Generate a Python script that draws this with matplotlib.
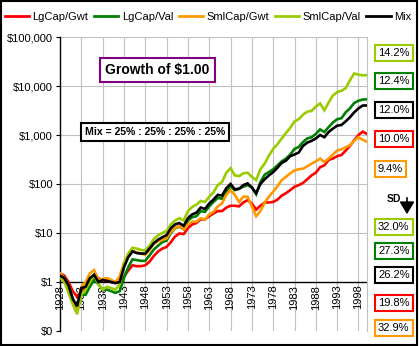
import matplotlib
matplotlib.use("Agg")
import matplotlib.pyplot as plt
from matplotlib.patches import Rectangle
from matplotlib.lines import Line2D
from matplotlib.ticker import FixedLocator, FixedFormatter, NullLocator

plt.rcParams['font.family'] = ['Liberation Sans', 'DejaVu Sans']

years = list(range(1928, 2001))

lgcap_gwt = [1.5, 1.35, 1.0, 0.65, 0.5, 0.65, 0.75, 1.0, 1.4, 1.2,
             1.05, 1.1, 1.0, 0.95, 1.0, 1.3, 1.7, 2.2, 2.1, 2.1,
             2.2, 2.6, 3.4, 4.2, 4.8, 5.2, 6.5, 8.5, 9.8, 9.5,
             12.5, 15, 16, 19, 19, 22, 25, 28, 28, 33,
             36, 36, 35, 42, 47, 40, 30, 36, 42, 42,
             43, 48, 58, 65, 75, 88, 95, 105, 125, 150,
             170, 220, 240, 310, 330, 370, 390, 480, 600, 780,
             1000, 1170, 1050]
lgcap_val = [1.4, 1.25, 0.85, 0.45, 0.3, 0.55, 0.55, 0.8, 1.1, 0.9,
             0.7, 0.7, 0.65, 0.6, 0.65, 1.2, 2.0, 2.9, 2.8, 2.7,
             2.7, 3.5, 4.6, 5.5, 6.5, 7.0, 10, 12.5, 13.5, 12,
             18, 21, 22, 28, 27, 35, 43, 52, 50, 70,
             90, 75, 80, 88, 95, 85, 62, 110, 155, 175,
             200, 240, 290, 330, 400, 520, 570, 720, 850, 900,
             1050, 1300, 1150, 1450, 1800, 2100, 2200, 2900, 3500, 4500,
             5000, 5300, 5350]
smlcap_gwt = [1.5, 1.2, 0.75, 0.4, 0.25, 0.8, 1.0, 1.5, 1.75, 1.1,
              1.15, 1.2, 1.1, 1.0, 1.3, 2.5, 3.6, 4.4, 4.0, 3.8,
              3.6, 4.5, 6.0, 6.8, 7.2, 7.8, 10.5, 12.5, 14, 12,
              15, 17, 17, 20, 19, 24, 27, 35, 40, 60,
              75, 60, 43, 55, 55, 35, 22, 28, 42, 55,
              70, 90, 120, 140, 165, 190, 200, 205, 230, 260,
              290, 330, 280, 330, 400, 480, 510, 560, 620, 760,
              900, 800, 730]
smlcap_val = [1.25, 1.0, 0.6, 0.35, 0.22, 0.55, 0.7, 1.0, 1.4, 0.9,
              0.7, 0.8, 0.75, 0.7, 0.9, 2.3, 3.8, 5.0, 4.8, 4.5,
              4.4, 5.5, 7.5, 9.0, 10, 11, 15, 18, 20, 18,
              28, 34, 38, 45, 43, 55, 68, 95, 110, 170,
              210, 150, 145, 165, 170, 140, 120, 200, 260, 380,
              520, 650, 850, 1100, 1400, 1900, 2100, 2600, 3000, 3100,
              3800, 4400, 3200, 4600, 6400, 7500, 8000, 9000, 13000, 18000,
              17000, 16500, 16700]
mix = [1.35, 1.2, 0.85, 0.45, 0.32, 0.75, 0.8, 1.2, 1.4, 1.0,
       1.1, 1.05, 1.0, 0.95, 1.0, 2.0, 3.2, 4.2, 3.9, 3.8,
       3.8, 4.8, 6.2, 7.3, 8.2, 9.0, 12.5, 15, 16, 14,
       20, 24, 26, 33, 31, 40, 48, 60, 58, 82,
       100, 78, 80, 95, 103, 85, 65, 100, 125, 150,
       175, 215, 270, 300, 370, 400, 440, 600, 700, 760,
       850, 1000, 900, 1150, 1350, 1550, 1600, 1900, 2300, 2900,
       3500, 4000, 4000]

series_names = ["LgCap/Gwt", "LgCap/Val", "SmlCap/Gwt", "SmlCap/Val", "Mix"]
series_colors = ["#FF0000", "#008000", "#FF9900", "#99CC00", "#000000"]
series_data = [lgcap_gwt, lgcap_val, smlcap_gwt, smlcap_val, mix]

ret_labels = ["14.2%", "12.4%", "12.0%", "10.0%", "9.4%"]
ret_colors = ["#99CC00", "#008000", "#000000", "#FF0000", "#FF9900"]
sd_labels = ["32.0%", "27.3%", "26.2%", "19.8%", "32.9%"]
sd_colors = ["#99CC00", "#008000", "#000000", "#FF0000", "#FF9900"]

ytick_vals = [0.1, 1, 10, 100, 1000, 10000, 100000]
ytick_labels = ["$0", "$1", "$10", "$100", "$1,000", "$10,000", "$100,000"]
xtick_years = list(range(1928, 1999, 5))

W, H = 420, 346
fig = plt.figure(figsize=(W / 100, H / 100), dpi=100)

def fx(x):
    return x / W

def fy(y):
    return 1 - y / H

L, R, T, B = 60, 367, 37, 331
ax = fig.add_axes([fx(L), fy(B), (R - L) / W, (B - T) / H])
ax.set_yscale('log')
ax.set_xlim(1928, 2000)
ax.set_ylim(0.1, 100000)

grid_c = "#C0C0C0"
for yv in ytick_vals[2:]:
    ax.axhline(yv, color=grid_c, lw=0.8, zorder=1)
for xv in xtick_years[1:]:
    ax.axvline(xv, color=grid_c, lw=0.8, zorder=1)
ax.axhline(1, color='black', lw=1.0, zorder=2)

for yr in xtick_years:
    ax.text(yr, 0.88, str(yr), rotation=90, ha='center', va='top',
            fontsize=8, zorder=1.5)

for name, col, data in zip(series_names, series_colors, series_data):
    ax.plot(years, data, color=col, lw=1.9, zorder=3, solid_joinstyle='miter')

ax.yaxis.set_major_locator(FixedLocator(ytick_vals))
ax.yaxis.set_major_formatter(FixedFormatter(ytick_labels))
ax.yaxis.set_minor_locator(NullLocator())
ax.xaxis.set_major_locator(NullLocator())
ax.xaxis.set_minor_locator(NullLocator())
ax.tick_params(axis='y', direction='out', length=3, width=0.8, pad=2, labelsize=8)
for s in ['top', 'bottom']:
    ax.spines[s].set_visible(False)
ax.spines['right'].set_color(grid_c)
ax.spines['right'].set_linewidth(0.8)
ax.spines['left'].set_color('black')
ax.spines['left'].set_linewidth(1.0)

# legend
handles = [Line2D([], [], color=c, lw=2.0) for c in series_colors]
fig.legend(handles, series_names, ncol=5, loc='center',
           bbox_to_anchor=(fx(208), fy(17)), frameon=False, fontsize=8,
           handlelength=2.2, columnspacing=0.5, handletextpad=0.3)

# title box
fig.text(fx(157.5), fy(70), "Growth of $1.00", ha='center', va='center',
         fontsize=10, fontweight='bold',
         bbox=dict(boxstyle='square,pad=0.35', fc='white', ec='#800080', lw=1.5))
fig.text(fx(155), fy(132), "Mix = 25% : 25% : 25% : 25%", ha='center', va='center',
         fontsize=7.6, fontweight='bold',
         bbox=dict(boxstyle='square,pad=0.4', fc='white', ec='black', lw=1.5))

ret_y = [53, 81, 110, 139, 169]
for lab, col, yy in zip(ret_labels, ret_colors, ret_y):
    fig.text(fx(378), fy(yy), lab, ha='left', va='center', fontsize=8,
             bbox=dict(boxstyle='square,pad=0.3', fc='white', ec=col, lw=1.5))

sd_y = [227, 251, 275, 303, 328]
for lab, col, yy in zip(sd_labels, sd_colors, sd_y):
    fig.text(fx(378), fy(yy), lab, ha='left', va='center', fontsize=8,
             bbox=dict(boxstyle='square,pad=0.3', fc='white', ec=col, lw=1.5))

fig.text(fx(394), fy(199), "SD", ha='center', va='center', fontsize=7.5,
         fontweight='bold')
fig.add_artist(matplotlib.patches.FancyArrowPatch(
    (fx(407), fy(195)), (fx(407), fy(217)), transform=fig.transFigure,
    arrowstyle='-|>,head_length=5,head_width=3', color='black', lw=1.2,
    mutation_scale=1.5))

fig.add_artist(Rectangle((fx(1), fy(345)), (417 - 1) / W, (345 - 1) / H,
                         transform=fig.transFigure, fill=False, ec='black', lw=1.5))

fig.savefig("out.png", dpi=100)
